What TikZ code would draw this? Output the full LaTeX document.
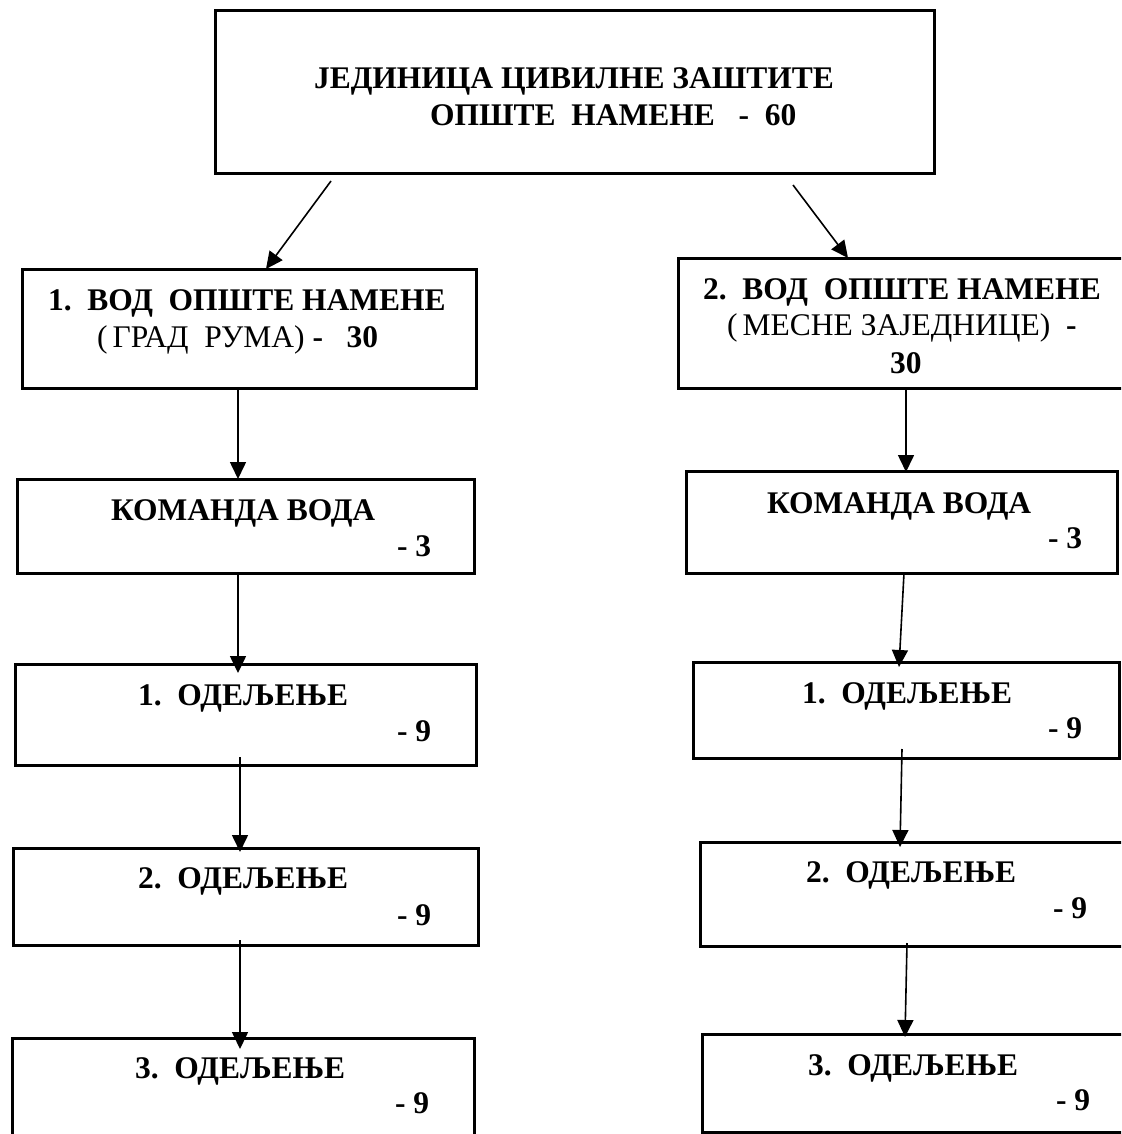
\documentclass[tikz,border=0pt]{standalone}
\usepackage{fontspec}
\setmainfont{Liberation Serif}
\usepackage{tikz}
\usetikzlibrary{arrows.meta,positioning,calc}
\tikzset{box/.style={draw,rectangle,line width=3pt,outer sep=0pt,inner sep=0pt},
txt/.style={anchor=base west,inner sep=0pt,outer sep=0pt,font=\fontsize{31.5}{37}\selectfont\bfseries},
arr/.style={-{Triangle[length=17pt,width=16pt]},line width=1.6pt}}

\begin{document}
\begin{tikzpicture}[x=1pt,y=-1pt]
		\useasboundingbox (0,0) rectangle (1121,1134);
		\clip (0,0) rectangle (1121,1134);
		% top box
		\node[box,minimum width=719,minimum height=163] (jed) at (574.5,92.5) {};
		\node[txt] (jed1) at (314,89) {ЈЕДИНИЦА ЦИВИЛНЕ ЗАШТИТЕ};
		\node[txt] (jed2) at (430,126) {ОПШТЕ\ \ НАМЕНЕ\ \ \ -\ \ 60};
		% left column
		\node[box,minimum width=454,minimum height=119] (vodA) at (249,328.5) {};
		\node[txt] (vodA1) at (48,310) {1.\ \ ВОД\ \ ОПШТЕ НАМЕНЕ};
		\node[txt] (vodA2) at (97,347) {\mdseries(\,ГРАД\ \ РУМА) \bfseries -\ \ \ 30};
		\node[box,minimum width=457,minimum height=94] (komA) at (245.5,526) {};
		\node[txt] (komA1) at (111,520) {КОМАНДА ВОДА};
		\node[txt] (komA2) at (397,556) {- 3};
		\node[box,minimum width=461,minimum height=101] (odA1) at (245.5,714.5) {};
		\node[txt] (odA1a) at (138,705) {1.\ \ ОДЕЉЕЊЕ};
		\node[txt] (odA1b) at (397,741) {- 9};
		\node[box,minimum width=465,minimum height=97] (odA2) at (245.5,896.5) {};
		\node[txt] (odA2a) at (138,888) {2.\ \ ОДЕЉЕЊЕ};
		\node[txt] (odA2b) at (397,925) {- 9};
		\node[box,minimum width=462,minimum height=120] (odA3) at (243,1098) {};
		\node[txt] (odA3a) at (135,1078) {3.\ \ ОДЕЉЕЊЕ};
		\node[txt] (odA3b) at (395,1113) {- 9};
		% right column
		\node[box,minimum width=460,minimum height=130] (vodB) at (908,323) {};
		\node[txt] (vodB1) at (703,299) {2.\ \ ВОД\ \ ОПШТЕ НАМЕНЕ};
		\node[txt] (vodB2) at (727,335) {\mdseries(\,МЕСНЕ ЗАЈЕДНИЦЕ)\ \ \bfseries -};
		\node[txt] (vodB3) at (890,373) {30};
		\node[box,minimum width=431,minimum height=102] (komB) at (901.5,522) {};
		\node[txt] (komB1) at (767,513) {КОМАНДА ВОДА};
		\node[txt] (komB2) at (1048,548) {- 3};
		\node[box,minimum width=426,minimum height=96] (odB1) at (906,710) {};
		\node[txt] (odB1a) at (802,703) {1.\ \ ОДЕЉЕЊЕ};
		\node[txt] (odB1b) at (1048,738) {- 9};
		\node[box,minimum width=440,minimum height=104] (odB2) at (920,894) {};
		\node[txt] (odB2a) at (806,882) {2.\ \ ОДЕЉЕЊЕ};
		\node[txt] (odB2b) at (1053,918) {- 9};
		\node[box,minimum width=438,minimum height=98] (odB3) at (921,1083) {};
		\node[txt] (odB3a) at (808,1075) {3.\ \ ОДЕЉЕЊЕ};
		\node[txt] (odB3b) at (1056,1110) {- 9};
		% arrows
		\draw[arr] ([xshift=-243.5,yshift=-7]jed.south) -- ([xshift=17]vodA.north);
		\draw[arr] ([xshift=218.5,yshift=-11]jed.south) -- ([xshift=-60]vodB.north);
		\draw[arr] ([xshift=-11,yshift=-2]vodA.south) -- ([xshift=-7.5]komA.north);
		\draw[arr] ([xshift=-7.5]komA.south) -- ([xshift=-7.5,yshift=-9]odA1.north);
		\draw[arr] ([xshift=-5.5,yshift=8]odA1.south) -- ([xshift=-5.5,yshift=-4]odA2.north);
		\draw[arr] ([xshift=-5.5,yshift=5]odA2.south) -- ([xshift=-3,yshift=-11]odA3.north);
		\draw[arr] ([xshift=-2,yshift=-2]vodB.south) -- ([xshift=4.5,yshift=-1]komB.north);
		\draw[arr] ([xshift=2.5]komB.south) -- ([xshift=-7,yshift=-5]odB1.north);
		\draw[arr] ([xshift=-4,yshift=9]odB1.south) -- ([xshift=-20,yshift=-5]odB2.north);
		\draw[arr] ([xshift=-13,yshift=3]odB2.south) -- ([xshift=-16,yshift=-3]odB3.north);
	\end{tikzpicture}
\end{document}
